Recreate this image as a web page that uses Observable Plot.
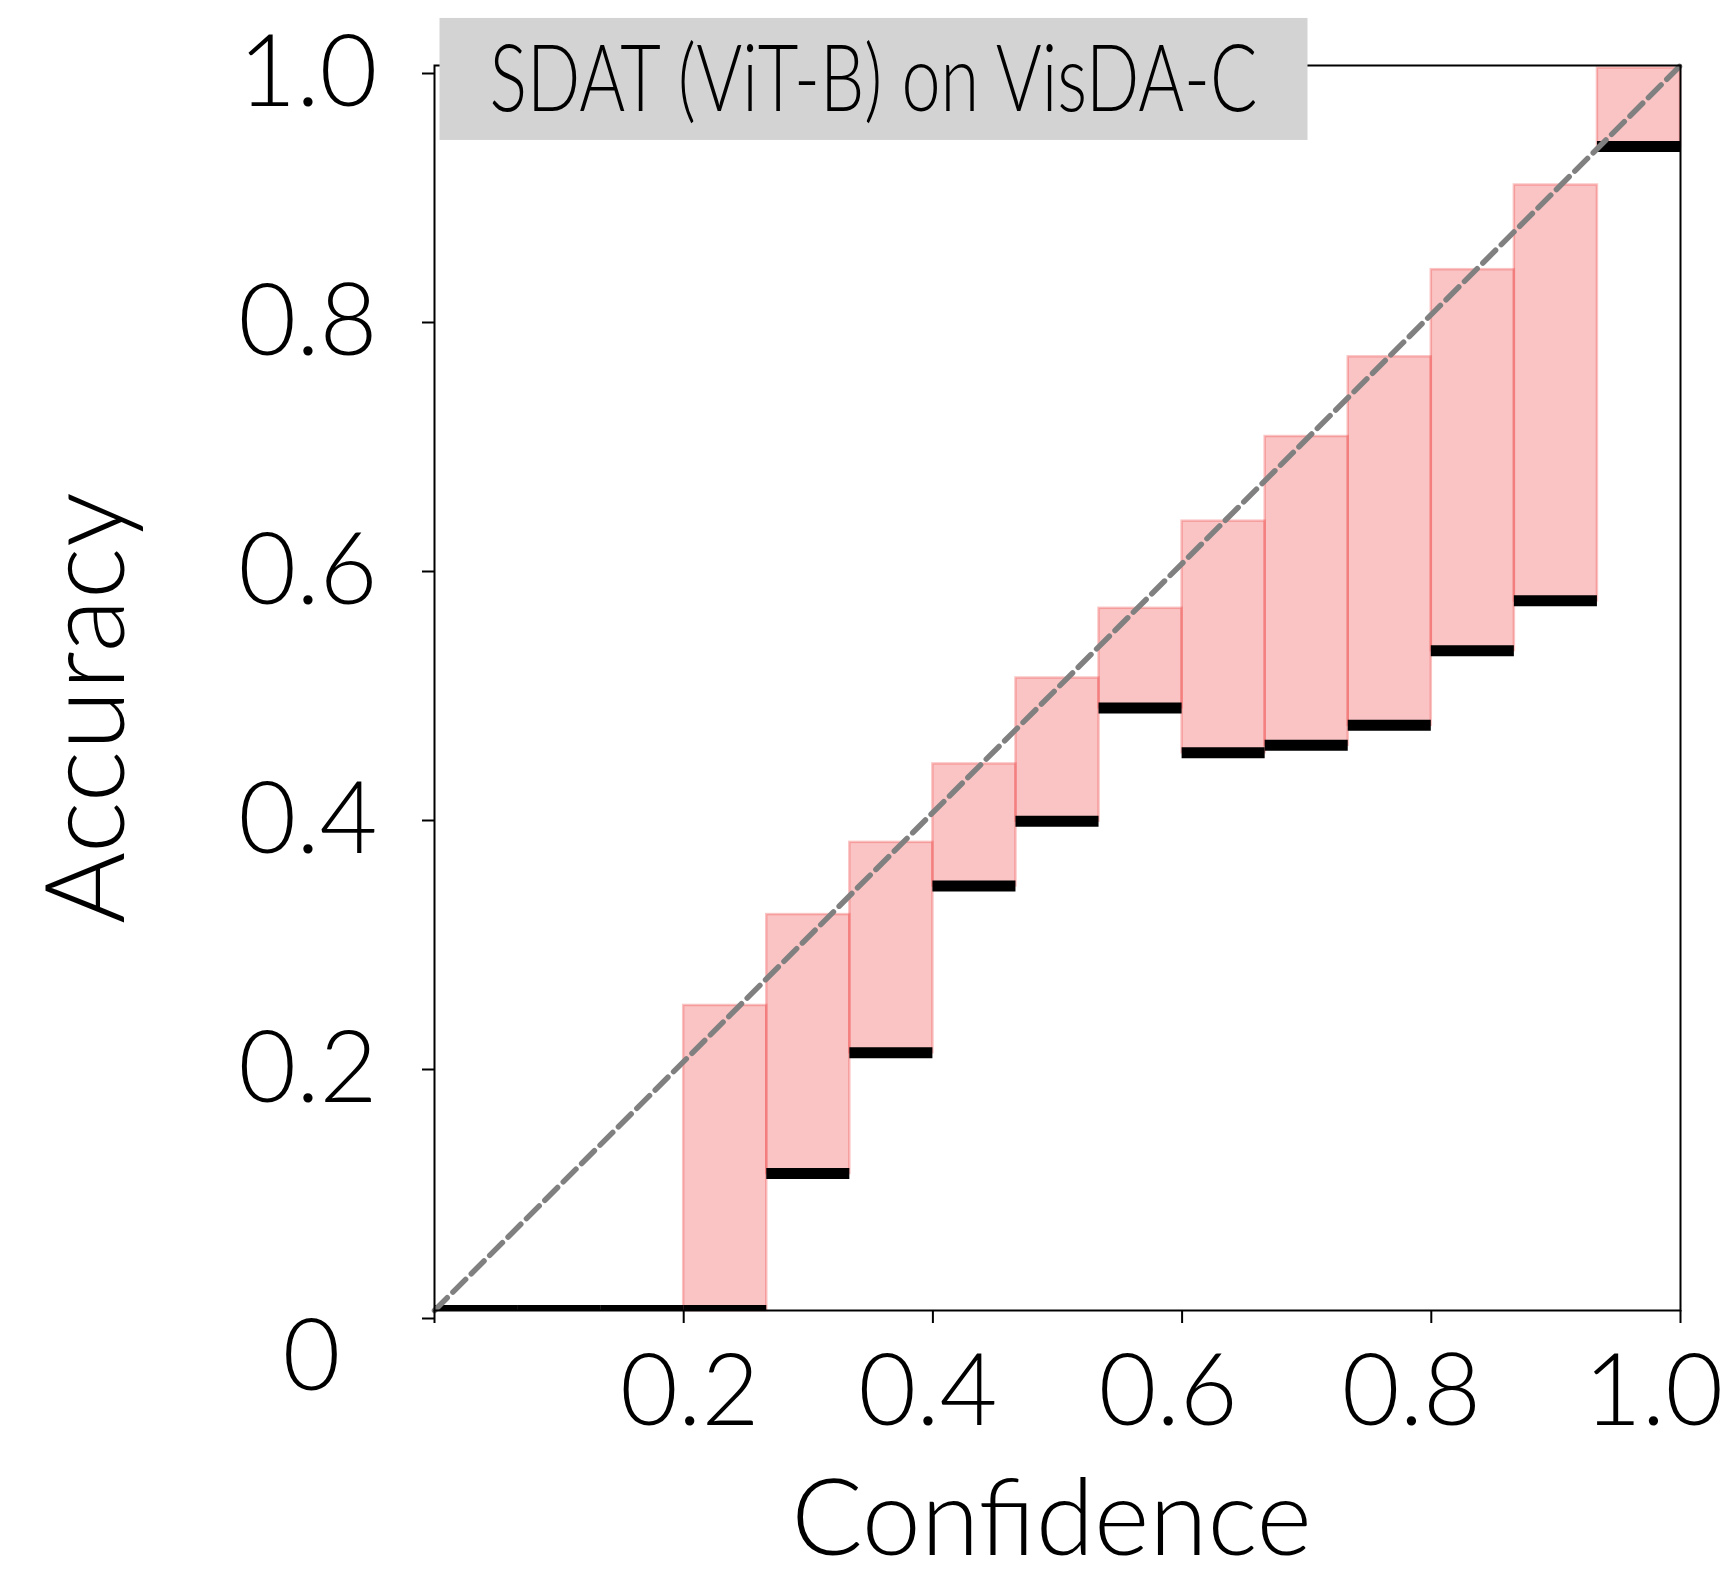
<!DOCTYPE html>
<html>
<head>
<meta charset="utf-8">
<script src="https://cdn.jsdelivr.net/npm/d3@7"></script>
<script src="https://cdn.jsdelivr.net/npm/@observablehq/plot@0.6"></script>
<style>
  html, body { margin: 0; padding: 0; background: #fff; }
  svg { display: block; }
</style>
</head>
<body>
<div id="chart"></div>
<script>
// ---- data (15 equal-width confidence bins) ----
const binLo = [0, 1/15, 2/15, 3/15, 4/15, 5/15, 6/15, 7/15, 8/15, 9/15, 10/15, 11/15, 12/15, 13/15, 14/15];
const binHi = [1/15, 2/15, 3/15, 4/15, 5/15, 6/15, 7/15, 8/15, 9/15, 10/15, 11/15, 12/15, 13/15, 14/15, 1];
const accuracy   = [0, 0, 0, 0, 0.110, 0.207, 0.341, 0.393, 0.484, 0.448, 0.454, 0.470, 0.530, 0.570, 0.935];
const confidence = [0, 0, 0, 0.245, 0.318, 0.376, 0.439, 0.508, 0.564, 0.634, 0.702, 0.766, 0.836, 0.904, 0.998];
const tickValues = [0, 0.2, 0.4, 0.6, 0.8, 1.0];
const diagonal = [0, 1];
const titleText = "SDAT (ViT-B) on VisDA-C";
const xLabel = "Confidence";
const yLabel = "Accuracy";

const bins = binLo.map((lo, i) => ({lo, hi: binHi[i], acc: accuracy[i], conf: confidence[i]}));

const FONT = "Lato, Roboto, 'Open Sans', sans-serif";
const fmt = d => d === 0 ? "" : d3.format(".1f")(d);
const TICK_FONT = 100;
// horizontal nudges (px) of the x tick labels, as placed in the original figure
const xLabelNudge = [0, 6, -5, -14, -20, -27];

const xLabelMarks = tickValues.map((v, i) => v === 0 ? null : Plot.axisX({
  ticks: [v], tickFormat: fmt, tickSize: 0, tickPadding: 43, dx: xLabelNudge[i],
  fontSize: TICK_FONT, label: null
})).filter(Boolean);

const chart = Plot.plot({
  width: 1722,
  height: 1573,
  marginLeft: 434,
  marginRight: 42,
  marginTop: 65,
  marginBottom: 263,
  style: {fontFamily: FONT, fontWeight: 300, background: "#fff"},
  x: {domain: [0, 1]},
  y: {domain: [0, 1]},
  marks: [
    // gap bars
    Plot.rect(bins.filter(d => d.conf > d.acc), {
      x1: "lo", x2: "hi", y1: "acc", y2: "conf",
      fill: "rgb(240,60,60)", fillOpacity: 0.3,
      stroke: "rgb(240,60,60)", strokeOpacity: 0.3, strokeWidth: 2.5
    }),
    // accuracy lines
    Plot.ruleY(bins, {
      y: "acc", x1: "lo", x2: "hi",
      stroke: "black", strokeWidth: 11, clip: true
    }),
    // identity line
    Plot.line(diagonal, {
      x: d => d, y: d => d,
      stroke: "#808080", strokeWidth: 5.5, strokeDasharray: "18,8"
    }),
    Plot.frame({stroke: "black", strokeWidth: 2}),
    Plot.axisY({
      ticks: tickValues, tickFormat: fmt, tickSize: 12, tickPadding: 45,
      fontSize: TICK_FONT, strokeWidth: 2, label: null, dy: 8
    }),
    Plot.axisX({
      ticks: tickValues, tickFormat: () => "", tickSize: 13,
      strokeWidth: 2, label: null
    }),
    ...xLabelMarks,
    // corner "0" label
    Plot.text([0], {
      x: d => d, y: d => d, text: d => String(d),
      fontSize: TICK_FONT, dx: -123, dy: 47, lineAnchor: "middle", textAnchor: "middle"
    }),
    Plot.text([xLabel], {
      frameAnchor: "bottom", text: d => d, fontSize: 106,
      dx: -6, dy: 211, lineAnchor: "middle", textAnchor: "middle"
    }),
    Plot.text([yLabel], {
      frameAnchor: "left", text: d => d, fontSize: 110, rotate: -90,
      dx: -346, dy: 20, lineAnchor: "middle", textAnchor: "middle"
    }),
    Plot.text([titleText], {
      frameAnchor: "top-left", text: d => d, fontSize: 92,
      textAnchor: "start", dx: 55, dy: 16, lineAnchor: "middle",
      className: "title-text"
    })
  ]
});

document.getElementById("chart").appendChild(chart);

// condensed title with a grey box behind it (like a matplotlib text bbox)
const tg = chart.querySelector("g.title-text") || chart.querySelector(".title-text");
if (tg) {
  const t = tg.querySelector("text") || tg;
  t.setAttribute("textLength", 768);
  t.setAttribute("lengthAdjust", "spacingAndGlyphs");
  const r = t.getBoundingClientRect();
  const s = chart.getBoundingClientRect();
  const rect = document.createElementNS("http://www.w3.org/2000/svg", "rect");
  const padX = 50;
  rect.setAttribute("x", r.left - s.left - padX);
  rect.setAttribute("width", r.width + 2 * padX);
  rect.setAttribute("y", r.top - s.top - 2);
  rect.setAttribute("height", r.height + 11);
  rect.setAttribute("fill", "#d3d3d3");
  chart.insertBefore(rect, tg);
}
</script>
</body>
</html>
